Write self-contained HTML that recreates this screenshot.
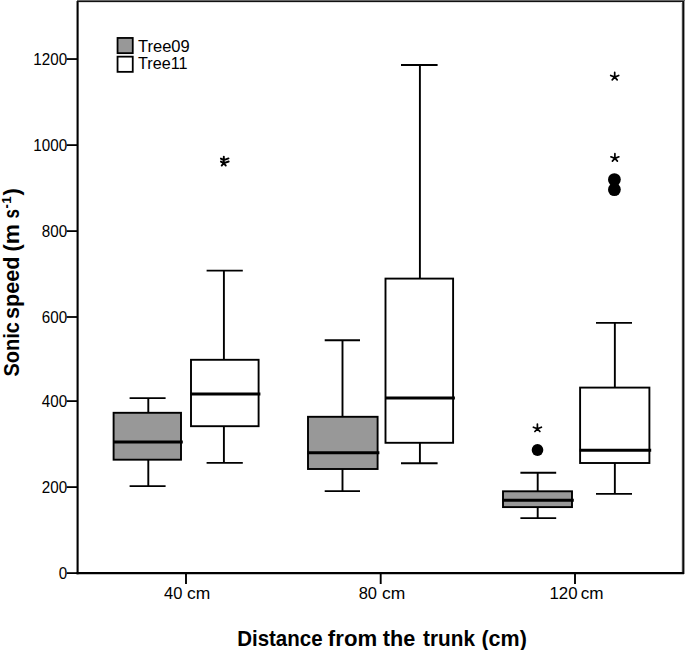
<!DOCTYPE html>
<html><head><meta charset="utf-8"><style>
html,body{margin:0;padding:0;background:#fff;}
svg{display:block;}
.t{font-family:"Liberation Sans",sans-serif;font-size:16px;fill:#000;}
.b{font-family:"Liberation Sans",sans-serif;font-weight:bold;fill:#000;}
</style></head><body>
<svg width="685" height="650" viewBox="0 0 685 650">
<rect width="685" height="650" fill="#fff"/>
<path d="M148.3 398.1V412.8M148.3 459.7V486.1M129.6 398.1H165.6M129.6 486.1H165.6" stroke="#000" stroke-width="1.9" fill="none"/>
<rect x="113.6" y="412.8" width="67.4" height="46.89999999999998" fill="#989898" stroke="#000" stroke-width="1.9"/>
<path d="M113.1 442.1H182.8" stroke="#000" stroke-width="3" fill="none"/>
<path d="M223.9 270.6V359.8M223.9 426.2V462.9M206.6 270.6H242.8M206.6 462.9H242.8" stroke="#000" stroke-width="1.9" fill="none"/>
<rect x="191.0" y="359.8" width="67.60000000000002" height="66.39999999999998" fill="#fff" stroke="#000" stroke-width="1.9"/>
<path d="M190.5 394.0H260.40000000000003" stroke="#000" stroke-width="3" fill="none"/>
<path d="M342.5 340.2V416.8M342.5 469.0V491.1M324.7 340.2H360.0M324.7 491.1H360.0" stroke="#000" stroke-width="1.9" fill="none"/>
<rect x="308.0" y="416.8" width="69.60000000000002" height="52.19999999999999" fill="#989898" stroke="#000" stroke-width="1.9"/>
<path d="M307.5 452.8H379.40000000000003" stroke="#000" stroke-width="3" fill="none"/>
<path d="M419.9 65.0V278.6M419.9 442.8V463.2M401.0 65.0H437.6M401.0 463.2H437.6" stroke="#000" stroke-width="1.9" fill="none"/>
<rect x="385.5" y="278.6" width="67.60000000000002" height="164.2" fill="#fff" stroke="#000" stroke-width="1.9"/>
<path d="M385.0 398.0H454.90000000000003" stroke="#000" stroke-width="3" fill="none"/>
<path d="M537.7 472.7V491.3M537.7 507.1V518.1M520.4 472.7H556.2M520.4 518.1H556.2" stroke="#000" stroke-width="1.9" fill="none"/>
<rect x="503.0" y="491.3" width="69.0" height="15.800000000000011" fill="#989898" stroke="#000" stroke-width="1.9"/>
<path d="M502.5 500.3H573.8" stroke="#000" stroke-width="3" fill="none"/>
<path d="M614.85 322.9V387.6M614.85 463.0V493.9M596.0 322.9H632.0M596.0 493.9H632.0" stroke="#000" stroke-width="1.9" fill="none"/>
<rect x="580.1" y="387.6" width="69.29999999999995" height="75.39999999999998" fill="#fff" stroke="#000" stroke-width="1.9"/>
<path d="M579.6 450.2H651.1999999999999" stroke="#000" stroke-width="3" fill="none"/>
<path d="M223.8 160.1V156.6M223.8 160.1L220.9 158.6M223.8 160.1L228.5 158.4M223.8 163.1L220.9 161.6M223.8 163.1L228.7 161.5M223.8 160.1V163.1M223.8 163.1L221.7 165.6M223.8 163.1L225.8 165.6" stroke="#000" stroke-width="1.9" stroke-linecap="round" fill="none"/>
<path d="M537.40 428.80l0.00 -4.70M537.40 428.80l-4.00 -1.60M537.40 428.80l4.00 -1.60M537.40 428.80l-2.50 2.70M537.40 428.80l2.50 2.70" stroke="#000" stroke-width="1.7" stroke-linecap="round" fill="none"/>
<path d="M614.70 77.10l0.00 -4.70M614.70 77.10l-4.00 -1.60M614.70 77.10l4.00 -1.60M614.70 77.10l-2.50 2.70M614.70 77.10l2.50 2.70" stroke="#000" stroke-width="1.7" stroke-linecap="round" fill="none"/>
<path d="M614.90 158.40l0.00 -4.70M614.90 158.40l-4.00 -1.60M614.90 158.40l4.00 -1.60M614.90 158.40l-2.50 2.70M614.90 158.40l2.50 2.70" stroke="#000" stroke-width="1.7" stroke-linecap="round" fill="none"/>
<ellipse cx="537.5" cy="450.0" rx="5.8" ry="6.1" fill="#000"/>
<circle cx="614.4" cy="179.6" r="6.4" fill="#000"/>
<circle cx="614.4" cy="189.6" r="6.4" fill="#000"/>
<path d="M77.6 1V574.2" stroke="#000" stroke-width="2.1"/>
<rect x="681" y="3" width="1" height="571" fill="#ddd"/><rect x="682" y="1" width="1" height="573" fill="#444"/><rect x="683" y="1" width="1" height="573" fill="#0a0a0a"/><rect x="684" y="1" width="1" height="573" fill="#999"/>
<rect x="77" y="0" width="608" height="1" fill="#666"/>
<rect x="77" y="1" width="607" height="1" fill="#111"/>
<rect x="79" y="2" width="602" height="1" fill="#ddd"/>
<path d="M76.5 573.1H684" stroke="#000" stroke-width="2.1"/>
<path d="M66.6 573.10H77" stroke="#000" stroke-width="1.8"/>
<text class="t" transform="translate(58.67 579.30) scale(0.95 1)">0</text>
<path d="M66.6 487.10H77" stroke="#000" stroke-width="1.8"/>
<text class="t" transform="translate(41.80 493.30) scale(0.95 1)">200</text>
<path d="M66.6 401.10H77" stroke="#000" stroke-width="1.8"/>
<text class="t" transform="translate(41.80 407.30) scale(0.95 1)">400</text>
<path d="M66.6 317.00H77" stroke="#000" stroke-width="1.8"/>
<text class="t" transform="translate(41.80 323.20) scale(0.95 1)">600</text>
<path d="M66.6 231.10H77" stroke="#000" stroke-width="1.8"/>
<text class="t" transform="translate(41.80 237.30) scale(0.95 1)">800</text>
<path d="M66.6 145.10H77" stroke="#000" stroke-width="1.8"/>
<text class="t" transform="translate(33.29 151.30) scale(0.95 1)">1000</text>
<path d="M66.6 59.05H77" stroke="#000" stroke-width="1.8"/>
<text class="t" transform="translate(33.29 65.25) scale(0.95 1)">1200</text>
<path d="M186.0 573V584" stroke="#000" stroke-width="1.9"/>
<text class="t" transform="translate(163.99 599.10) scale(1.0347 1.0)" style="font-size:16px">40</text>
<text class="t" transform="translate(186.91 599.10) scale(1.0912 1.0)" style="font-size:16px">cm</text>
<path d="M380.7 573V584" stroke="#000" stroke-width="1.9"/>
<text class="t" transform="translate(358.66 599.10) scale(1.0305 1.0)" style="font-size:16px">80</text>
<text class="t" transform="translate(381.91 599.10) scale(1.0912 1.0)" style="font-size:16px">cm</text>
<path d="M575.0 573V584" stroke="#000" stroke-width="1.9"/>
<text class="t" transform="translate(549.44 599.10) scale(1.0524 1.0)" style="font-size:16px">120</text>
<text class="t" transform="translate(580.73 599.10) scale(1.0707 1.0)" style="font-size:16px">cm</text>
<rect x="117.55" y="37.95" width="15.2" height="15.2" fill="#989898" stroke="#000" stroke-width="1.8"/>
<rect x="117.55" y="56.65" width="15.2" height="15.2" fill="#fff" stroke="#000" stroke-width="1.8"/>
<text class="t" transform="translate(137.99 51.60) scale(1.0335 1.0)" style="font-size:16px">Tree09</text>
<text class="t" transform="translate(137.99 69.30) scale(1.0130 1.0)" style="font-size:16px">Tree11</text>
<text class="b" transform="translate(237.17 645.60) scale(0.9108 1)" style="font-size:22.5px">Distance</text>
<text class="b" transform="translate(327.87 645.60) scale(0.9863 1)" style="font-size:22.5px">from</text>
<text class="b" transform="translate(382.78 645.60) scale(0.9622 1)" style="font-size:22.5px">the</text>
<text class="b" transform="translate(423.09 645.60) scale(0.9228 1)" style="font-size:22.5px">trunk</text>
<text class="b" transform="translate(481.43 645.60) scale(0.9551 1)" style="font-size:22.5px">(cm)</text>
<text class="b" transform="rotate(-90) translate(-376.60 19.30) scale(0.8889 1)" style="font-size:22.5px">Sonic</text>
<text class="b" transform="rotate(-90) translate(-318.96 19.30) scale(0.9590 1)" style="font-size:22.5px">speed</text>
<text class="b" transform="rotate(-90) translate(-251.84 19.30) scale(1.0090 1)" style="font-size:22.5px">(m</text>
<text class="b" transform="rotate(-90) translate(-218.49 19.30) scale(0.7500 1)" style="font-size:22.5px">s</text>
<text class="b" transform="rotate(-90) translate(-208.52 11.00) scale(0.9244 1)" style="font-size:14px">-</text>
<text class="b" transform="rotate(-90) translate(-203.67 11.30) scale(0.9877 1)" style="font-size:13.5px">1</text>
<text class="b" transform="rotate(-90) translate(-195.51 19.30) scale(0.9841 1)" style="font-size:22.5px">)</text>
</svg>
</body></html>
